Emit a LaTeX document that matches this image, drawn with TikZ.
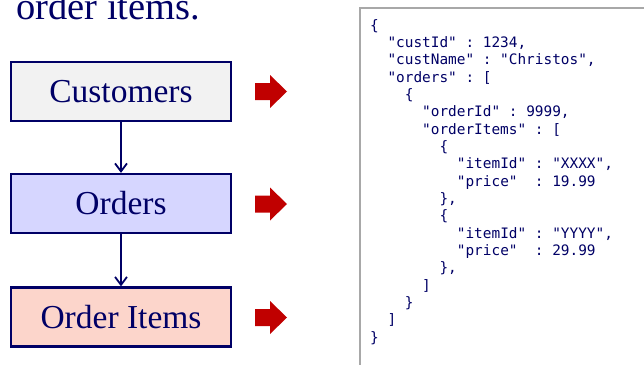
\documentclass[tikz,border=0pt]{standalone}
\usepackage{fontspec}
\setmainfont{Liberation Serif}
\setmonofont{DejaVu Sans Mono}
\usetikzlibrary{arrows.meta}
\definecolor{navy}{RGB}{0,0,102}
\definecolor{custfill}{RGB}{242,242,242}
\definecolor{ordfill}{RGB}{214,214,255}
\definecolor{itemfill}{RGB}{252,213,203}
\definecolor{arrowred}{RGB}{192,0,0}
\definecolor{jsonframe}{RGB}{168,168,168}
\tikzset{
  entity/.style={draw=navy, line width=2.2pt, minimum width=220pt, minimum height=59pt,
    inner sep=0pt, text=navy, font=\fontsize{33.5}{36}\selectfont},
  link/.style={draw=navy, line width=1.8pt, -{Straight Barb[length=8pt,width=12pt,line width=1.8pt]}},
  jsontext/.style={anchor=base west, inner sep=0pt, text=navy, font=\ttfamily\fontsize{14.4}{17.35}\selectfont},
  redarr/.pic={\fill[arrowred] (0,-8.5) -- (15,-8.5) -- (15,-16.5) -- (32,0) -- (15,16.5) -- (15,8.5) -- (0,8.5) -- cycle;}
}
\newcommand\jl[3]{\node[jsontext] (j#1) at ({370+#2*8.67},{30+#1*17.35}) {#3};}
\begin{document}
\begin{tikzpicture}[x=1pt,y=-1pt]
\useasboundingbox (0,0) rectangle (644,364);
\node[anchor=base west, inner sep=0pt, text=navy, font=\fontsize{38.5}{40}\selectfont] (title) at (16,19.5) {order items.};
\node[entity, fill=custfill] (cust) at (121,91.5) {Customers};
\node[entity, fill=ordfill] (ord) at (121,203.5) {Orders};
\node[entity, fill=itemfill] (item) at (121,317) {Order Items};
\draw[link] (cust.south) -- (ord.north);
\draw[link] (ord.south) -- (item.north);
\pic at (255,91.5) {redarr};
\pic at (255,204) {redarr};
\pic at (255,317.5) {redarr};
\draw[jsonframe, line width=1.6pt, fill=white] (360,8) rectangle (660,380);
\jl{0}{0}{\{}
\jl{1}{2}{"custId" : 1234,}
\jl{2}{2}{"custName" : "Christos",}
\jl{3}{2}{"orders" : [}
\jl{4}{4}{\{}
\jl{5}{6}{"orderId" : 9999,}
\jl{6}{6}{"orderItems" : [}
\jl{7}{8}{\{}
\jl{8}{10}{"itemId" : "XXXX",}
\jl{9}{10}{"price"\ \ : 19.99}
\jl{10}{8}{\},}
\jl{11}{8}{\{}
\jl{12}{10}{"itemId" : "YYYY",}
\jl{13}{10}{"price"\ \ : 29.99}
\jl{14}{8}{\},}
\jl{15}{6}{]}
\jl{16}{4}{\}}
\jl{17}{2}{]}
\jl{18}{0}{\}}
\end{tikzpicture}
\end{document}
